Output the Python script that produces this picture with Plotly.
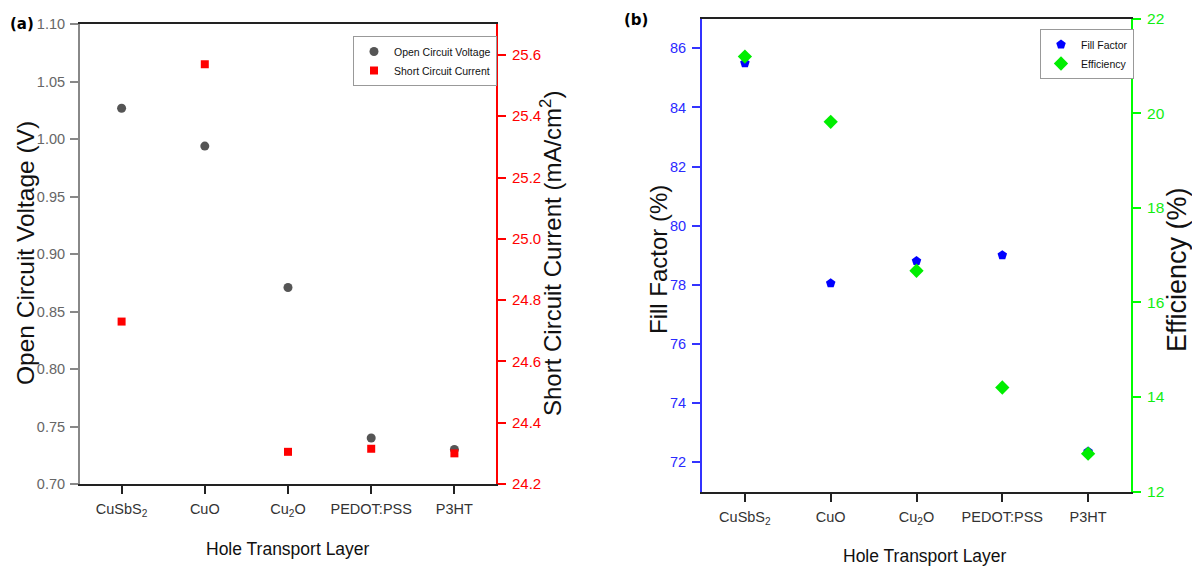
import plotly.graph_objects as go

# ---------------- data ----------------
htl = ["CuSbS<sub>2</sub>", "CuO", "Cu<sub>2</sub>O", "PEDOT:PSS", "P3HT"]
voc = [1.027, 0.994, 0.871, 0.740, 0.730]          # V
jsc = [24.73, 25.57, 24.305, 24.315, 24.30]         # mA/cm2
ff = [85.5, 78.05, 78.8, 79.0, 72.35]               # %
eff = [21.2, 19.82, 16.67, 14.2, 12.8]              # %

W, H = 1192, 574
SANS = "Liberation Sans, Arial, sans-serif"

def px(xp):
    return xp / W

def py(yp):
    return 1 - yp / H

fig = go.Figure()

fig.add_trace(go.Scatter(x=htl, y=voc, mode="markers", name="Open Circuit Voltage",
                         marker=dict(symbol="circle", size=9, color="#555555"),
                         xaxis="x", yaxis="y", legend="legend"))
fig.add_trace(go.Scatter(x=htl, y=jsc, mode="markers", name="Short Circuit Current",
                         marker=dict(symbol="square", size=8, color="#ff0000"),
                         xaxis="x", yaxis="y2", legend="legend"))
fig.add_trace(go.Scatter(x=htl, y=ff, mode="markers", name="Fill Factor",
                         marker=dict(symbol="pentagon", size=10, color="#0000ff"),
                         xaxis="x2", yaxis="y3", legend="legend2"))
fig.add_trace(go.Scatter(x=htl, y=eff, mode="markers", name="Efficiency",
                         marker=dict(symbol="diamond", size=11, color="#00ee00"),
                         xaxis="x2", yaxis="y4", legend="legend2"))

xa = dict(type="category", range=[-0.5, 4.5], showline=True, linecolor="#222222",
          linewidth=2, mirror=True, ticks="outside", ticklen=8, tickwidth=2,
          tickcolor="#222222", showgrid=False, zeroline=False, automargin=False,
          tickfont=dict(family=SANS, size=14.5, color="#333333"),
          ticklabelstandoff=3)

fig.update_layout(
    width=W, height=H,
    margin=dict(l=0, r=0, t=0, b=0, autoexpand=False),
    paper_bgcolor="white", plot_bgcolor="white",
    xaxis=dict(xa, domain=[px(80), px(496)], anchor="y"),
    xaxis2=dict(xa, domain=[px(702), px(1131)], anchor="y3"),
    yaxis=dict(domain=[py(484), py(24.3)], range=[0.70, 1.10], dtick=0.05,
               tickformat=".2f", showline=True, linecolor="#888888", linewidth=2,
               ticks="outside", ticklen=8, tickwidth=1.5, tickcolor="#888888",
               showgrid=False, zeroline=False, anchor="x", automargin=False,
               tickfont=dict(family=SANS, size=14.5, color="#666666"),
               ticklabelstandoff=2),
    yaxis2=dict(overlaying="y", side="right", anchor="x", range=[24.2, 25.7],
                tickvals=[24.2, 24.4, 24.6, 24.8, 25.0, 25.2, 25.4, 25.6],
                tickformat=".1f", showline=True, linecolor="#ff0000", linewidth=2,
                ticks="outside", ticklen=8, tickwidth=1.5, tickcolor="#ff0000",
                showgrid=False, zeroline=False, automargin=False,
                tickfont=dict(family=SANS, size=15, color="#ff0000"),
                ticklabelstandoff=3),
    yaxis3=dict(domain=[py(491.5), py(18.8)], range=[71, 87],
                tickvals=[72, 74, 76, 78, 80, 82, 84, 86], showline=True,
                linecolor="#3333ff", linewidth=2, ticks="outside", ticklen=8,
                tickwidth=1.5, tickcolor="#3333ff", showgrid=False, zeroline=False,
                anchor="x2", automargin=False,
                tickfont=dict(family=SANS, size=14.5, color="#2a2aff"),
                ticklabelstandoff=3),
    yaxis4=dict(overlaying="y3", side="right", anchor="x2", range=[12, 22], dtick=2,
                showline=True, linecolor="#00ff00", linewidth=2, ticks="outside",
                ticklen=8, tickwidth=1.5, tickcolor="#00ff00", showgrid=False,
                zeroline=False, automargin=False,
                tickfont=dict(family=SANS, size=15.5, color="#11ee11"),
                ticklabelstandoff=3),
    legend=dict(x=px(353), y=py(36), xanchor="left", yanchor="top",
                bordercolor="#999999", borderwidth=1, bgcolor="white",
                font=dict(family=SANS, size=10.5, color="#111111"),
                itemwidth=30, tracegroupgap=0),
    legend2=dict(x=px(1040), y=py(29), xanchor="left", yanchor="top",
                 bordercolor="#999999", borderwidth=1, bgcolor="white",
                 font=dict(family=SANS, size=10.5, color="#111111"),
                 itemwidth=30, tracegroupgap=0),
    showlegend=True,
)

ann = [
    dict(text="<b>(a)</b>", x=px(8), y=py(24), xanchor="left", yanchor="middle",
         font=dict(family="DejaVu Sans", size=15, color="black")),
    dict(text="<b>(b)</b>", x=px(622), y=py(20), xanchor="left", yanchor="middle",
         font=dict(family="DejaVu Sans", size=15, color="black")),
    dict(text="Open Circuit Voltage (V)", x=px(25), y=py(253), textangle=-90,
         xanchor="center", yanchor="middle", font=dict(family=SANS, size=24.5, color="#111111")),
    dict(text="Short Circuit Current (mA/cm<sup>2</sup>)", x=px(551), y=py(254), textangle=-90,
         xanchor="center", yanchor="middle", font=dict(family=SANS, size=24, color="#111111")),
    dict(text="Hole Transport Layer", x=px(288), y=py(549), xanchor="center", yanchor="middle",
         font=dict(family=SANS, size=17.5, color="#111111")),
    dict(text="Fill Factor (%)", x=px(658), y=py(260), textangle=-90,
         xanchor="center", yanchor="middle", font=dict(family=SANS, size=24, color="#111111")),
    dict(text="Efficiency (%)", x=px(1177), y=py(270), textangle=-90,
         xanchor="center", yanchor="middle", font=dict(family=SANS, size=27, color="#111111")),
    dict(text="Hole Transport Layer", x=px(925), y=py(556), xanchor="center", yanchor="middle",
         font=dict(family=SANS, size=17.5, color="#111111")),
]
for a in ann:
    a.update(xref="paper", yref="paper", showarrow=False)
fig.update_layout(annotations=ann)

fig.write_html("out.html")
